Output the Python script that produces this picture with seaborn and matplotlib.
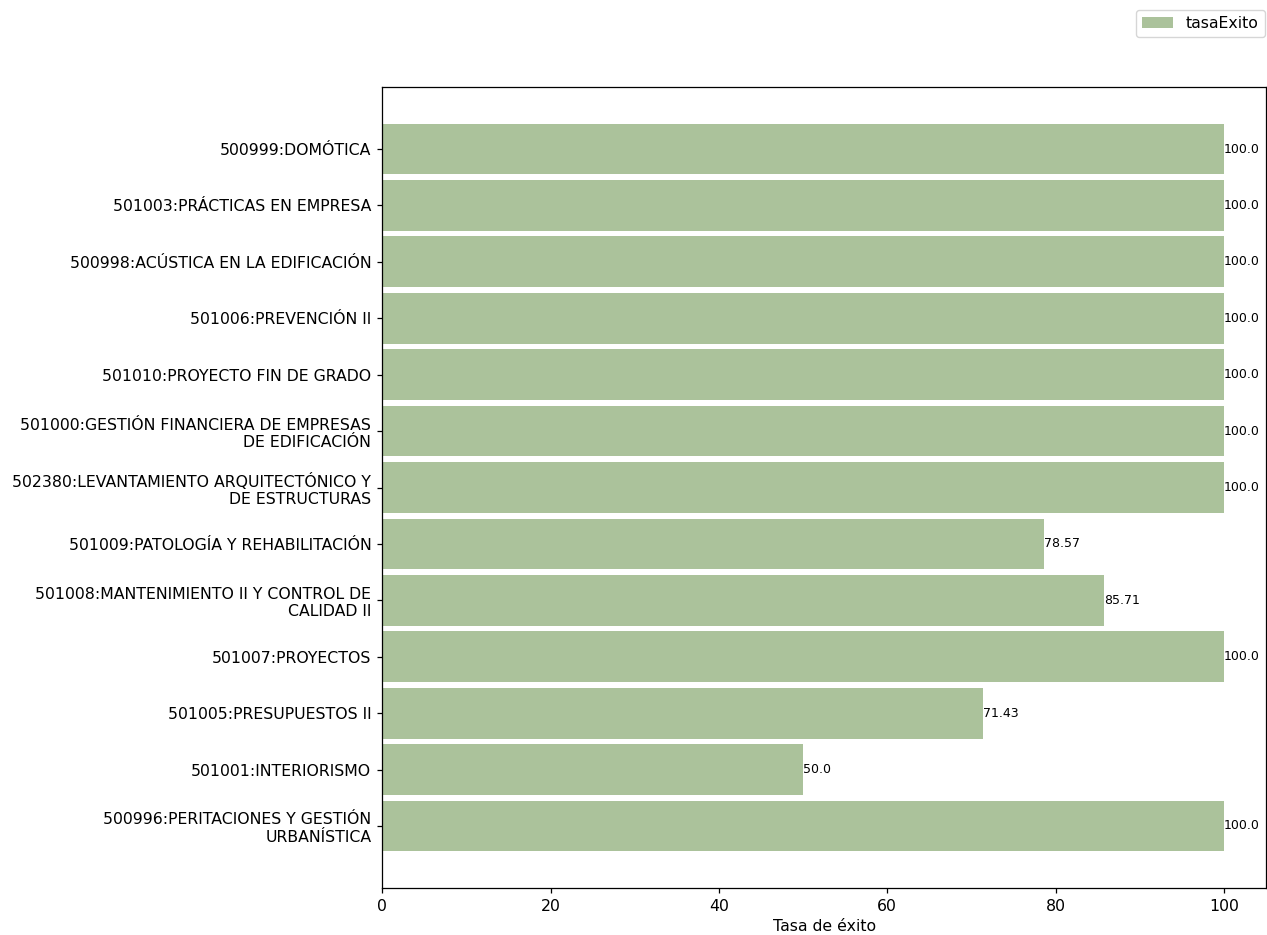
import matplotlib
matplotlib.use('Agg')
import pandas as pd
import seaborn as sns
import matplotlib.pyplot as plt

# Asignaturas (de arriba a abajo) y tasa de éxito
asignaturas = [
    '500999:DOMÓTICA',
    '501003:PRÁCTICAS EN EMPRESA',
    '500998:ACÚSTICA EN LA EDIFICACIÓN',
    '501006:PREVENCIÓN II',
    '501010:PROYECTO FIN DE GRADO',
    '501000:GESTIÓN FINANCIERA DE EMPRESAS\nDE EDIFICACIÓN',
    '502380:LEVANTAMIENTO ARQUITECTÓNICO Y\nDE ESTRUCTURAS',
    '501009:PATOLOGÍA Y REHABILITACIÓN',
    '501008:MANTENIMIENTO II Y CONTROL DE\nCALIDAD II',
    '501007:PROYECTOS',
    '501005:PRESUPUESTOS II',
    '501001:INTERIORISMO',
    '500996:PERITACIONES Y GESTIÓN\nURBANÍSTICA',
]
tasa_exito = [100.0, 100.0, 100.0, 100.0, 100.0, 100.0, 100.0,
              78.57, 85.71, 100.0, 71.43, 50.0, 100.0]

df = pd.DataFrame({'asignatura': asignaturas, 'tasaExito': tasa_exito})

# el original parece renderizado con un factor ~1.13
k = 1.13
plt.rcParams['font.family'] = ['DejaVu Sans']
plt.rcParams['font.size'] = 10 * k
plt.rcParams['axes.linewidth'] = 0.8 * k
plt.rcParams['xtick.major.size'] = 3.5 * k
plt.rcParams['ytick.major.size'] = 3.5 * k
plt.rcParams['xtick.major.width'] = 0.8 * k
plt.rcParams['ytick.major.width'] = 0.8 * k
plt.rcParams['xtick.major.pad'] = 3.5 * k
plt.rcParams['ytick.major.pad'] = 3.5 * k

W, H = 1267, 935
fig = plt.figure(figsize=(W / 100, H / 100), dpi=100)
ax = fig.add_axes([382.3 / W, (H - 887.7) / H, (1266 - 382.3) / W, (887.7 - 87.3) / H])

sns.barplot(data=df, x='tasaExito', y='asignatura', orient='h',
            color='#abc29b', saturation=1, width=0.9, label='tasaExito', ax=ax)

# Etiquetas con el valor al final de cada barra
for i, v in enumerate(df['tasaExito']):
    ax.text(v, i, str(v), va='center', ha='left', fontsize=8 * k)

ax.set_xlim(0, 105)
ax.set_ylim(len(df) - 1 + 1.095, -1.095)
ax.set_xlabel('Tasa de éxito')
ax.set_ylabel('')

ax.legend().remove()
fig.legend(loc='upper right', bbox_to_anchor=(1273 / W, 1 - 2 / H))

plt.savefig('out.png', dpi=100)
